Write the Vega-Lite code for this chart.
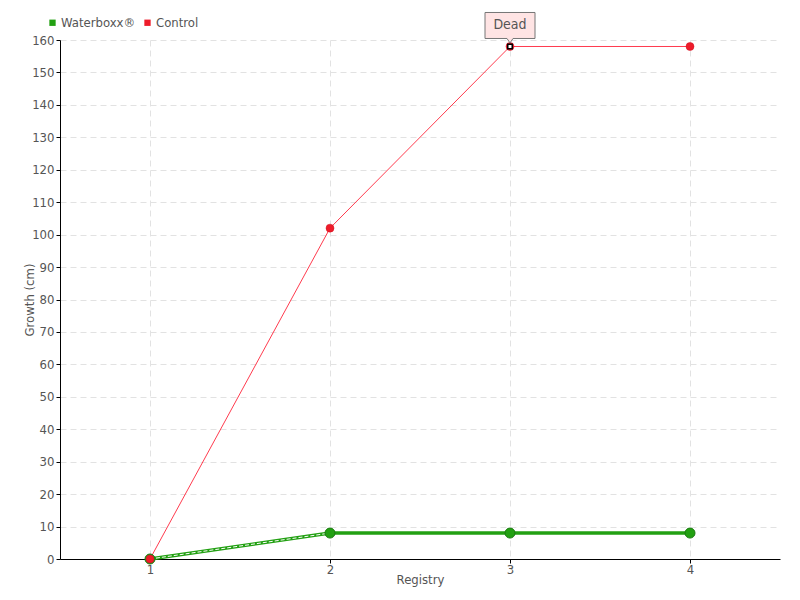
{
  "$schema": "https://vega.github.io/schema/vega-lite/v6.json",
  "width": 720,
  "height": 519,
  "autosize": "none",
  "padding": {"left": 60, "top": 40, "right": 20, "bottom": 41},
  "background": "white",
  "config": {
    "font": "DejaVu Sans Condensed",
    "view": {"stroke": null},
    "axis": {
      "labelFont": "DejaVu Sans Condensed",
      "titleFont": "DejaVu Sans Condensed",
      "labelColor": "#555555",
      "titleColor": "#555555",
      "labelFontSize": 13,
      "titleFontSize": 13,
      "titleFontWeight": "normal",
      "domainColor": "#000000",
      "tickColor": "#000000",
      "tickSize": 4,
      "gridColor": "#e2e2e2",
      "gridDash": [6, 4],
      "gridWidth": 1
    }
  },
  "data": {
    "values": [
      {"reg": 1, "growth": 0, "series": "Waterboxx®"},
      {"reg": 2, "growth": 8, "series": "Waterboxx®"},
      {"reg": 3, "growth": 8, "series": "Waterboxx®"},
      {"reg": 4, "growth": 8, "series": "Waterboxx®"},
      {"reg": 1, "growth": 0, "series": "Control"},
      {"reg": 2, "growth": 102, "series": "Control"},
      {"reg": 3, "growth": 158, "series": "Control"},
      {"reg": 4, "growth": 158, "series": "Control"}
    ]
  },
  "encoding": {
    "x": {
      "field": "reg",
      "type": "quantitative",
      "scale": {"domain": [0.5, 4.5], "nice": false, "zero": false},
      "axis": {"values": [1, 2, 3, 4], "format": "d", "title": "Registry", "titlePadding": -3, "labelPadding": 0}
    },
    "y": {
      "field": "growth",
      "type": "quantitative",
      "scale": {"domain": [0, 160], "nice": false},
      "axis": {"values": [0,10,20,30,40,50,60,70,80,90,100,110,120,130,140,150,160], "title": "Growth (cm)", "titlePadding": -5, "labelPadding": 2}
    }
  },
  "layer": [
    {
      "transform": [{"filter": "datum.series === 'Waterboxx®'"}],
      "mark": {"type": "line", "color": "#22a012", "strokeWidth": 3.5},
      "encoding": {}
    },
    {
      "transform": [{"filter": "datum.series === 'Waterboxx®' && datum.reg <= 2"}],
      "mark": {"type": "line", "color": "white", "strokeWidth": 1, "strokeDash": [4, 2]},
      "encoding": {}
    },
    {
      "transform": [{"filter": "datum.series === 'Control'"}],
      "mark": {"type": "line", "color": "#ff3b4e", "strokeWidth": 1},
      "encoding": {}
    },
    {
      "transform": [{"filter": "datum.series === 'Waterboxx®'"}],
      "mark": {"type": "point", "filled": true, "opacity": 1, "stroke": "#1a7a10", "strokeWidth": 1, "size": 100},
      "encoding": {
        "fill": {
          "field": "series",
          "type": "nominal",
          "scale": {"domain": ["Waterboxx®", "Control"], "range": ["#22a012", "#ee1c2a"]},
          "legend": {
            "title": null,
            "orient": "none",
            "legendX": -14,
            "legendY": -24,
            "direction": "horizontal",
            "symbolType": "square",
            "symbolSize": 40,
            "labelFontSize": 13,
            "labelColor": "#555555",
            "labelFont": "DejaVu Sans Condensed",
            "columnPadding": 5,
            "labelOffset": 2,
            "symbolStrokeWidth": 0
          }
        }
      }
    },
    {
      "transform": [{"filter": "datum.series === 'Control'"}],
      "mark": {"type": "point", "filled": true, "opacity": 1, "stroke": "#d01020", "strokeWidth": 0.5, "size": 64},
      "encoding": {
        "fill": {
          "field": "series",
          "type": "nominal",
          "scale": {"domain": ["Waterboxx®", "Control"], "range": ["#22a012", "#ee1c2a"]}
        }
      }
    },
    {
      "data": {"values": [{"reg": 3, "growth": 158, "label": "Dead"}]},
      "mark": {"type": "point", "shape": "square", "filled": true, "fill": "white", "stroke": "black", "strokeWidth": 1.5, "size": 20, "opacity": 1},
      "encoding": {}
    },
    {
      "data": {"values": [{"reg": 3, "growth": 158, "label": "Dead"}]},
      "mark": {
        "type": "point",
        "shape": "M-1,-0.52 L1,-0.52 L1,0.52 L0.12,0.52 L0,0.7 L-0.12,0.52 L-1,0.52 Z",
        "filled": true,
        "fill": "#ffe4e4",
        "stroke": "#777777",
        "strokeWidth": 1,
        "size": 2500,
        "opacity": 1,
        "yOffset": -21
      },
      "encoding": {}
    },
    {
      "data": {"values": [{"reg": 3, "growth": 158, "label": "Dead"}]},
      "mark": {"type": "text", "font": "DejaVu Sans Condensed", "fontSize": 14, "color": "#555555", "dy": -21, "baseline": "middle"},
      "encoding": {"text": {"field": "label"}}
    }
  ]
}
